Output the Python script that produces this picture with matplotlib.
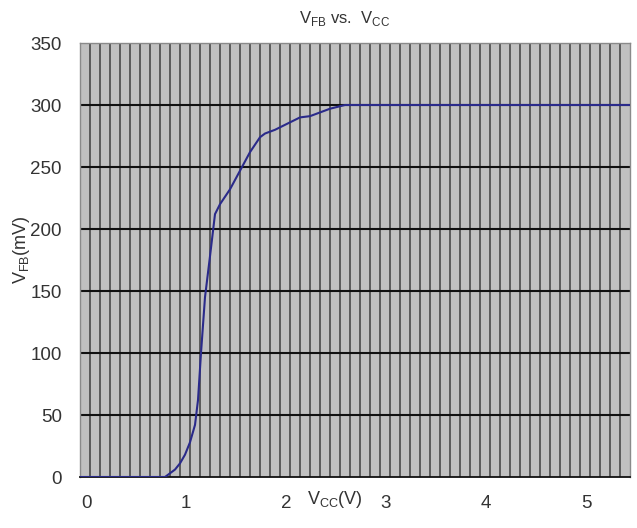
import matplotlib
matplotlib.use("Agg")
import matplotlib.pyplot as plt
import matplotlib.transforms as mtransforms
import numpy as np

plt.rcParams['font.family'] = ['Liberation Sans', 'DejaVu Sans']
plt.rcParams['mathtext.fontset'] = 'custom'
plt.rcParams['mathtext.rm'] = 'Liberation Sans'

# data
vcc = [0, 0.85, 0.95, 1.0, 1.05, 1.1, 1.15, 1.18, 1.21, 1.25, 1.30, 1.35,
       1.40, 1.50, 1.60, 1.70, 1.80, 1.85, 1.95, 2.10, 2.20, 2.30, 2.40,
       2.50, 2.65, 5.5]
vfb = [0, 0, 6, 11, 18, 28, 42, 62, 100, 145, 178, 212,
       220, 232, 247, 262, 274, 277, 280, 286, 290, 291, 294,
       297, 300, 300]
xticks = [0, 1, 2, 3, 4, 5]
yticks = [0, 50, 100, 150, 200, 250, 300, 350]

fig = plt.figure(figsize=(6.37, 5.28), dpi=100)
ax = fig.add_axes([80 / 637, 1 - 477 / 528, 550 / 637, 434 / 528])
ax.set_facecolor('#c0c0c0')

ax.set_xlim(0, 5.5)
ax.set_ylim(0, 350)

# vertical grid every 0.1 V
for xv in np.arange(0.1, 5.5, 0.1):
    ax.axvline(xv, color='#484848', lw=1.2, zorder=1)
# horizontal grid every 50 mV
for yv in yticks[1:-1]:
    ax.axhline(yv, color='#111111', lw=1.5, zorder=1)

ax.plot(vcc, vfb, color='#2a2a8a', lw=1.5, zorder=3)

ax.set_xticks(xticks)
ax.set_yticks(yticks)
ax.tick_params(axis='both', length=0, labelsize=13.5, colors='#333333')
ax.tick_params(axis='x', pad=13)
ax.tick_params(axis='y', pad=13)
shift = mtransforms.ScaledTranslation(6 / 100, 0, fig.dpi_scale_trans)
for lab in ax.get_xticklabels():
    lab.set_transform(lab.get_transform() + shift)

for side in ['top', 'right', 'left']:
    ax.spines[side].set_color('#8a8a8a')
    ax.spines[side].set_linewidth(1.0)
ax.spines['bottom'].set_color('#111111')
ax.spines['bottom'].set_linewidth(1.3)

ax.text(2.55, -0.052, r'V$_{\mathrm{CC}}$(V)', transform=ax.get_xaxis_transform(),
        ha='center', va='center', fontsize=13, color='#333333')
fig.text(22 / 637, 1 - 250 / 528, r'V$_{\mathrm{FB}}$(mV)', rotation=90,
         ha='center', va='center', fontsize=13, color='#333333')
fig.text(345 / 637, 1 - 18 / 528, r'V$_{\mathrm{FB}}$ vs.  V$_{\mathrm{CC}}$',
         ha='center', va='center', fontsize=12, color='#333333')

fig.savefig('out.png', dpi=100)
